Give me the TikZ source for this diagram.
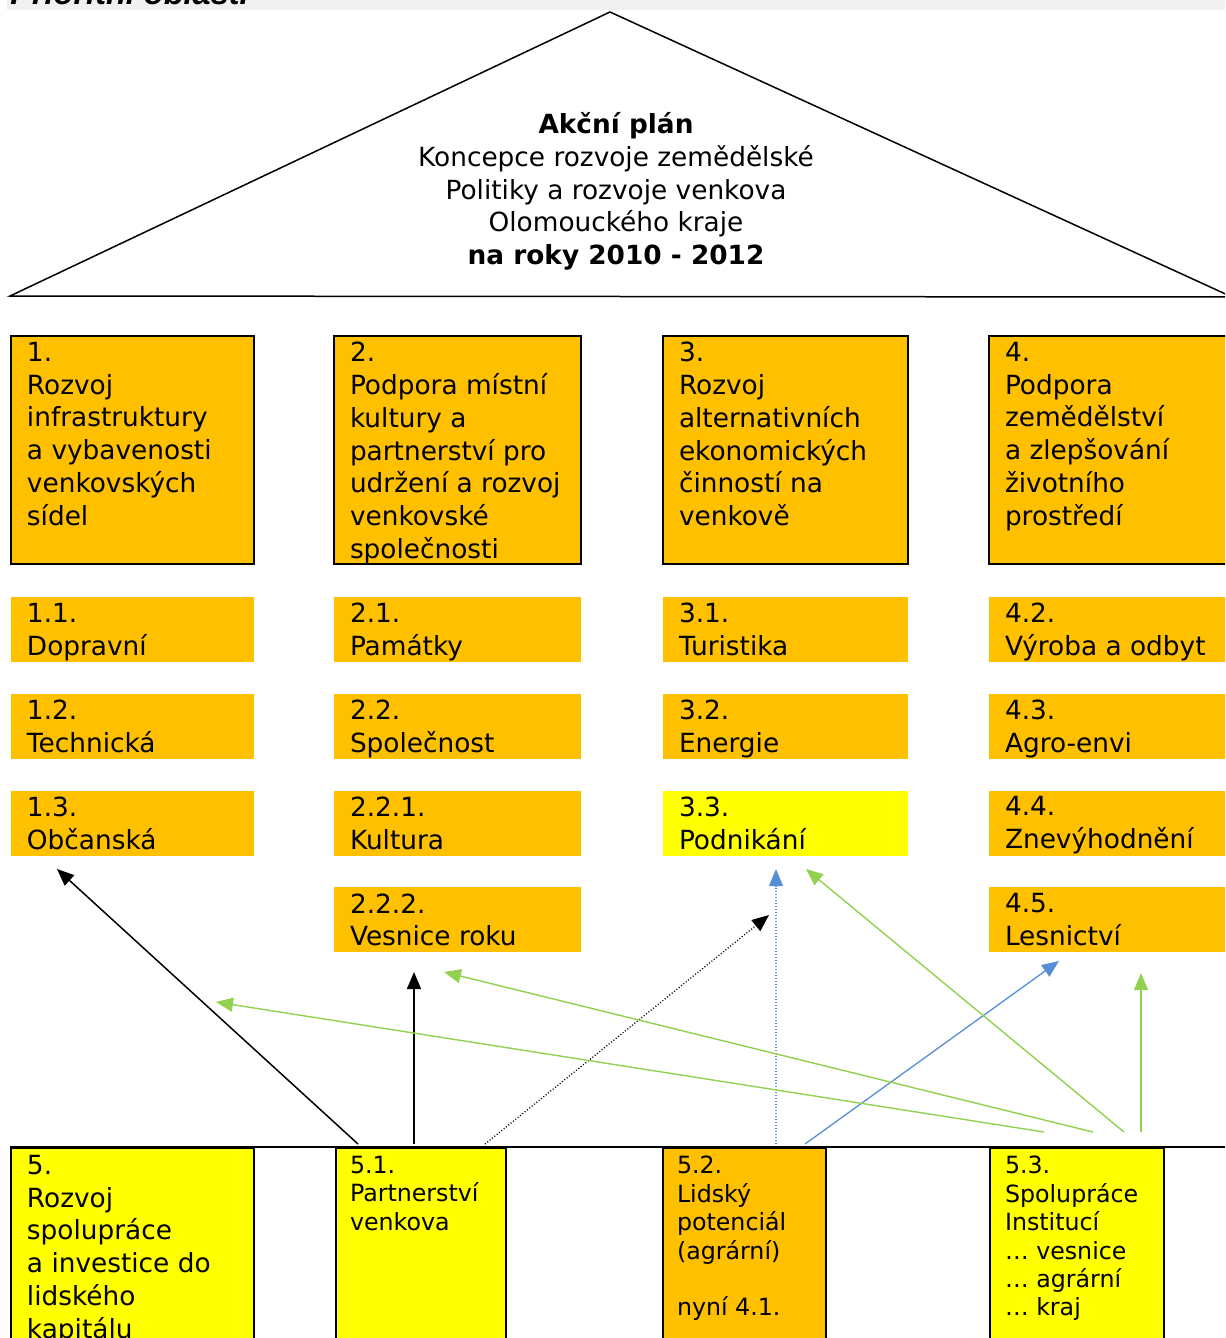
\documentclass[tikz,border=0pt]{standalone}
\usepackage{fontspec}
\setmainfont{DejaVu Sans}
\newfontfamily\headfont{Liberation Sans}
\usepackage{tikz}
\usetikzlibrary{arrows.meta, positioning, calc}

\definecolor{amber}{HTML}{FFC000}
\definecolor{brightyellow}{HTML}{FFFF00}
\definecolor{arrowgreen}{HTML}{92D050}
\definecolor{arrowblue}{HTML}{558ED5}
\definecolor{bandgray}{HTML}{F0F0F0}

\newdimen\pxu \pxu=0.02cm
\newcommand{\bigtext}{\fontsize{15pt}{18.7pt}\selectfont}
\newcommand{\smalltext}{\fontsize{13.5pt}{16.2pt}\selectfont}
% [left pad]{width}{height}{top pad}{text}
\newcommand{\cellbox}[5][16]{\parbox[t][#3\pxu][t]{#2\pxu}{\vspace*{#4\pxu}\raggedright\leftskip=#1\pxu\relax #5}}

\begin{document}
\begin{tikzpicture}[
    x=0.02cm, y=-0.02cm,
    areabox/.style={rectangle, draw=black, line width=0.04cm, fill=amber, inner sep=0pt, font=\bigtext},
    subbox/.style={rectangle, fill=amber, inner sep=0pt, font=\bigtext},
    smallcell/.style={areabox, font=\smalltext},
    roof/.style={draw=black, line width=0.03cm},
    arrow/.style={line width=0.03cm, -{Triangle[length=0.34cm, width=0.28cm]}},
    blackarrow/.style={arrow, draw=black},
    bluearrow/.style={arrow, draw=arrowblue, line width=0.026cm},
    greenarrow/.style={arrow, draw=arrowgreen, line width=0.028cm},
    dots/.style={line width=0.026cm, dash pattern=on 0.02cm off 0.04cm}
]
\useasboundingbox (0,0) rectangle (1225,1338);
\clip (0,0) rectangle (1225,1338);

% header band
\begin{scope}
\clip (0,0) rectangle (1225,10);
\fill[bandgray] (7,-10) rectangle (1225,10);
\node (head) [anchor=base west, inner sep=0pt, font=\headfont\fontsize{18.5pt}{22pt}\selectfont\bfseries\itshape] at (10,5) {Prioritní oblasti};
\end{scope}

% roof
\draw[roof] (10,296) -- (610,12) -- (1232,297) -- cycle;
\node (title) [anchor=north, inner sep=0pt, align=center, font=\bigtext] at (616,112)
  {{\bfseries Akční plán}\\Koncepce rozvoje zemědělské\\Politiky a rozvoje venkova\\Olomouckého kraje\\{\bfseries na roky 2010 - 2012}};

% areas
\node (a1) [areabox, anchor=north west] at (10,335) {\cellbox{243}{228}{6}{1.\\Rozvoj\\infrastruktury\\a vybavenosti\\venkovských\\sídel}};
\node (a2) [areabox, anchor=north west] at (333,335) {\cellbox{247}{228}{6}{2.\\Podpora místní\\kultury a\\partnerství pro\\udržení a rozvoj\\venkovské\\společnosti}};
\node (a3) [areabox, anchor=north west] at (662,335) {\cellbox{245}{228}{6}{3.\\Rozvoj\\alternativních\\ekonomických\\činností na\\venkově}};
\node (a4) [areabox, anchor=north west] at (988,335) {\cellbox{260}{228}{6}{4.\\Podpora\\zemědělství\\a zlepšování\\životního\\prostředí}};

% measures
\node (s11) [subbox, below=0.64cm of a1] {\cellbox{243}{65}{6}{1.1.\\Dopravní}};
\node (s12) [subbox, below=0.62cm of s11] {\cellbox{243}{65}{6}{1.2.\\Technická}};
\node (s13) [subbox, below=0.62cm of s12] {\cellbox{243}{65}{6}{1.3.\\Občanská}};

\node (s21) [subbox, below=0.64cm of a2] {\cellbox{247}{65}{6}{2.1.\\Památky}};
\node (s22) [subbox, below=0.62cm of s21] {\cellbox{247}{65}{6}{2.2.\\Společnost}};
\node (s221) [subbox, below=0.62cm of s22] {\cellbox{247}{65}{6}{2.2.1.\\Kultura}};
\node (s222) [subbox, below=0.62cm of s221] {\cellbox{247}{65}{6}{2.2.2.\\Vesnice roku}};

\node (s31) [subbox, below=0.64cm of a3] {\cellbox{245}{65}{6}{3.1.\\Turistika}};
\node (s32) [subbox, below=0.62cm of s31] {\cellbox{245}{65}{6}{3.2.\\Energie}};
\node (s33) [subbox, fill=brightyellow, below=0.62cm of s32] {\cellbox{245}{65}{6}{3.3.\\Podnikání}};

\node (s42) [subbox, below=0.64cm of a4] {\cellbox{260}{65}{6}{4.2.\\Výroba a odbyt}};
\node (s43) [subbox, below=0.62cm of s42] {\cellbox{260}{65}{6}{4.3.\\Agro-envi}};
\node (s44) [subbox, below=0.62cm of s43] {\cellbox{260}{65}{6}{4.4.\\Znevýhodnění}};
\node (s45) [subbox, below=0.62cm of s44] {\cellbox{260}{65}{6}{4.5.\\Lesnictví}};

% cooperation row
\draw[line width=0.04cm] (10,1147) -- (1225,1147);
\node (c5) [areabox, fill=brightyellow, anchor=north west] at (10,1147) {\cellbox{243}{200}{7}{5.\\Rozvoj\\spolupráce\\a investice do\\lidského\\kapitálu}};
\node (c51) [smallcell, fill=brightyellow, anchor=north west] at (335,1147) {\cellbox[14]{170}{200}{8}{5.1.\\Partnerství\\venkova}};
\node (c52) [smallcell, anchor=north west] at (662,1147) {\cellbox[14]{163}{200}{8}{5.2.\\Lidský\\potenciál\\(agrární)\\\mbox{}\\nyní 4.1.}};
\node (c53) [smallcell, fill=brightyellow, anchor=north west] at (989,1147) {\cellbox[15]{174}{200}{8}{5.3.\\Spolupráce\\Institucí\\… vesnice\\… agrární\\… kraj}};

% arrow ends
\coordinate (t1) at (358,1144);  \coordinate (h1) at (57,869);
\coordinate (t2) at (414,1144);  \coordinate (h2) at (414,972);
\coordinate (t3) at (485,1144);  \coordinate (h3) at (769,915);
\coordinate (t4) at (776,1144);  \coordinate (h4) at (776,869);
\coordinate (t5) at (805,1144);  \coordinate (h5) at (1059,961);
\coordinate (g1) at (1044,1132); \coordinate (h6) at (216,1002);
\coordinate (g2) at (1093,1132); \coordinate (h7) at (444,972);
\coordinate (g3) at (1124,1132); \coordinate (h8) at (806,869);
\coordinate (g4) at (1141,1132); \coordinate (h9) at (1141,973);

% arrows
\draw[blackarrow] (t1) -- (h1);
\draw[blackarrow] (t2) -- (h2);
\draw[blackarrow, dots] (t3) -- (h3);
\draw[bluearrow, dots, line width=0.022cm] (t4) -- (h4);
\draw[bluearrow] (t5) -- (h5);
\draw[greenarrow] (g1) -- (h6);
\draw[greenarrow] (g2) -- (h7);
\draw[greenarrow] (g3) -- (h8);
\draw[greenarrow] (g4) -- (h9);

\end{tikzpicture}
\end{document}
